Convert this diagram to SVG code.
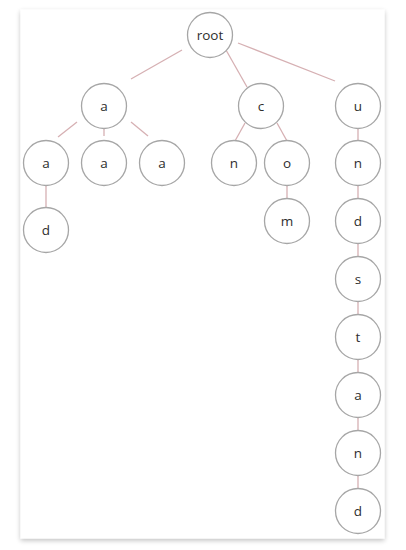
<svg xmlns="http://www.w3.org/2000/svg" width="406" height="550" viewBox="0 0 406 550">
<defs>
<filter id="sh" x="-10%" y="-10%" width="120%" height="120%">
<feGaussianBlur in="SourceAlpha" stdDeviation="2.5"/>
<feOffset dx="0" dy="2"/>
<feComponentTransfer><feFuncA type="linear" slope="0.25"/></feComponentTransfer>
<feMerge><feMergeNode/><feMergeNode in="SourceGraphic"/></feMerge>
</filter>
<style>
.n circle{fill:#fff;stroke:#a6a6a6;stroke-width:1.3}
.n text{font-family:"Open Sans","Noto Sans",sans-serif;font-size:13.5px;fill:#2e2e2e;text-anchor:middle}
#edges line{stroke:#d6b0b3;stroke-width:1.3}
</style>
</defs>
<rect width="406" height="550" fill="#fff"/>
<rect x="20.5" y="9.5" width="364" height="529" fill="#fff" filter="url(#sh)"/>
<g id="edges">
<line x1="182" y1="50" x2="131" y2="79"/>
<line x1="226" y1="50" x2="247" y2="87"/>
<line x1="238" y1="43" x2="335" y2="81"/>
<line x1="77" y1="122" x2="58" y2="137"/>
<line x1="104" y1="128" x2="104" y2="136"/>
<line x1="131" y1="122" x2="148" y2="136"/>
<line x1="245" y1="123" x2="235" y2="141"/>
<line x1="277" y1="123" x2="287" y2="141"/>
<line x1="358" y1="128" x2="358" y2="141"/>
<line x1="46" y1="186" x2="46" y2="208"/>
<line x1="287" y1="186" x2="287" y2="199"/>
<line x1="358" y1="186" x2="358" y2="199"/>
<line x1="358" y1="244" x2="358" y2="256"/>
<line x1="358" y1="301" x2="358" y2="315"/>
<line x1="358" y1="359" x2="358" y2="373"/>
<line x1="358" y1="417" x2="358" y2="431"/>
<line x1="358" y1="475" x2="358" y2="489"/>
</g>
<g id="root" class="n"><circle cx="210" cy="35" r="22.5"/><text x="210" y="39.5">root</text></g>
<g id="a1" class="n"><circle cx="104" cy="106" r="22.5"/><text x="104" y="110.5">a</text></g>
<g id="c1" class="n"><circle cx="261" cy="106" r="22.5"/><text x="261" y="110.5">c</text></g>
<g id="u1" class="n"><circle cx="358" cy="106" r="22.5"/><text x="358" y="110.5">u</text></g>
<g id="a2a" class="n"><circle cx="46" cy="163" r="22.5"/><text x="46" y="167.5">a</text></g>
<g id="a2b" class="n"><circle cx="104" cy="163" r="22.5"/><text x="104" y="167.5">a</text></g>
<g id="a2c" class="n"><circle cx="162" cy="163" r="22.5"/><text x="162" y="167.5">a</text></g>
<g id="n2" class="n"><circle cx="234" cy="163" r="22.5"/><text x="234" y="167.5">n</text></g>
<g id="o2" class="n"><circle cx="287" cy="163" r="22.5"/><text x="287" y="167.5">o</text></g>
<g id="n2u" class="n"><circle cx="358" cy="163" r="22.5"/><text x="358" y="167.5">n</text></g>
<g id="d3" class="n"><circle cx="46" cy="230" r="22.5"/><text x="46" y="234.5">d</text></g>
<g id="m3" class="n"><circle cx="287" cy="221" r="22.5"/><text x="287" y="225.5">m</text></g>
<g id="d3u" class="n"><circle cx="358" cy="221" r="22.5"/><text x="358" y="225.5">d</text></g>
<g id="s4" class="n"><circle cx="358" cy="279" r="22.5"/><text x="358" y="283.5">s</text></g>
<g id="t5" class="n"><circle cx="358" cy="337" r="22.5"/><text x="358" y="341.5">t</text></g>
<g id="a6" class="n"><circle cx="358" cy="395" r="22.5"/><text x="358" y="399.5">a</text></g>
<g id="n7" class="n"><circle cx="358" cy="453" r="22.5"/><text x="358" y="457.5">n</text></g>
<g id="d8" class="n"><circle cx="358" cy="511" r="22.5"/><text x="358" y="515.5">d</text></g>
</svg>
